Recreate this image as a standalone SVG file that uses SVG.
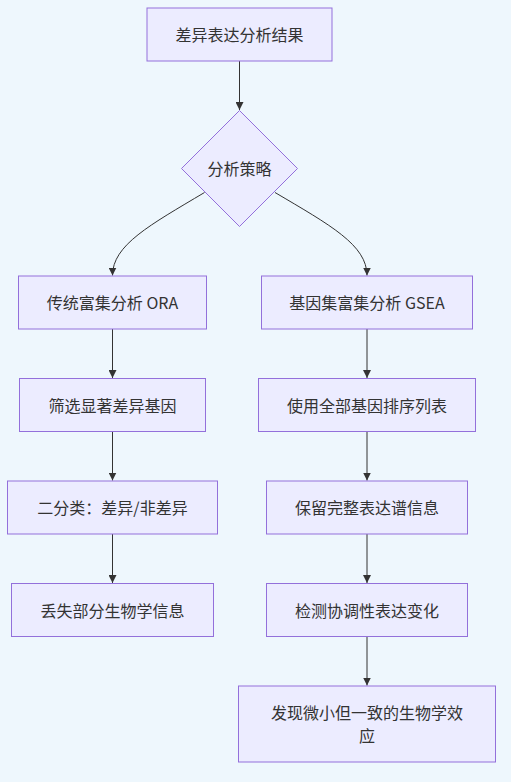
<svg xmlns="http://www.w3.org/2000/svg" width="511" height="782" viewBox="0 0 511 782">
<style>
.bg{fill:#eef7fd}
.node rect,.node polygon{fill:#ececff;stroke:#9370db;stroke-width:1}
.node text{font-family:"Noto Sans CJK SC","Liberation Sans",sans-serif;font-size:16px;fill:#333;text-anchor:middle;dominant-baseline:central}
.edge{fill:none;stroke:#333;stroke-width:1}
</style>
<defs>
<marker id="arr" viewBox="0 0 10 10" refX="10" refY="5" markerWidth="8" markerHeight="8" markerUnits="userSpaceOnUse" orient="auto">
<path d="M0 0 L10 5 L0 10 z" fill="#333"/>
</marker>
</defs>
<rect class="bg" x="0" y="0" width="511" height="782"/>
<g id="connectors">
<path class="edge" d="M239.5 61 L239.5 110" marker-end="url(#arr)"/>
<path class="edge" d="M204.5 192.5 C150 225 112.5 245 112.5 275.5" marker-end="url(#arr)"/>
<path class="edge" d="M275 192.5 C330 225 367 245 367 275.5" marker-end="url(#arr)"/>
<path class="edge" d="M112.5 329 L112.5 378" marker-end="url(#arr)"/>
<path class="edge" d="M112.5 431 L112.5 480.5" marker-end="url(#arr)"/>
<path class="edge" d="M112.5 534 L112.5 583" marker-end="url(#arr)"/>
<path class="edge" d="M367 329 L367 378" marker-end="url(#arr)"/>
<path class="edge" d="M367 431 L367 480.5" marker-end="url(#arr)"/>
<path class="edge" d="M367 534 L367 583" marker-end="url(#arr)"/>
<path class="edge" d="M367 636 L367 685.5" marker-end="url(#arr)"/>
</g>
<g id="n1" class="node"><rect x="147" y="8" width="185" height="53"/><text x="239.5" y="34">差异表达分析结果</text></g>
<g id="n2" class="node"><polygon points="239.5,110.5 297.5,168.5 239.5,226.5 181.5,168.5"/><text x="239.5" y="168">分析策略</text></g>
<g id="n3" class="node"><rect x="18.5" y="276" width="188" height="53"/><text x="112.5" y="302">传统富集分析 ORA</text></g>
<g id="n4" class="node"><rect x="261.5" y="276" width="211" height="53"/><text x="367" y="302">基因集富集分析 GSEA</text></g>
<g id="n5" class="node"><rect x="19.5" y="378.5" width="186" height="53"/><text x="112.5" y="404.5">筛选显著差异基因</text></g>
<g id="n6" class="node"><rect x="258.5" y="378.5" width="217" height="53"/><text x="367" y="404.5">使用全部基因排序列表</text></g>
<g id="n7" class="node"><rect x="7.5" y="481" width="210" height="53"/><text x="112.5" y="507">二分类：差异/非差异</text></g>
<g id="n8" class="node"><rect x="266.5" y="481" width="201" height="53"/><text x="367" y="507">保留完整表达谱信息</text></g>
<g id="n9" class="node"><rect x="11.5" y="583.5" width="202" height="53"/><text x="112.5" y="609.5">丢失部分生物学信息</text></g>
<g id="n10" class="node"><rect x="266.5" y="583.5" width="201" height="53"/><text x="367" y="609.5">检测协调性表达变化</text></g>
<g id="n11" class="node"><rect x="238.5" y="686" width="257" height="76"/><text x="367" y="711.5">发现微小但一致的生物学效</text><text x="367" y="735">应</text></g>
</svg>
